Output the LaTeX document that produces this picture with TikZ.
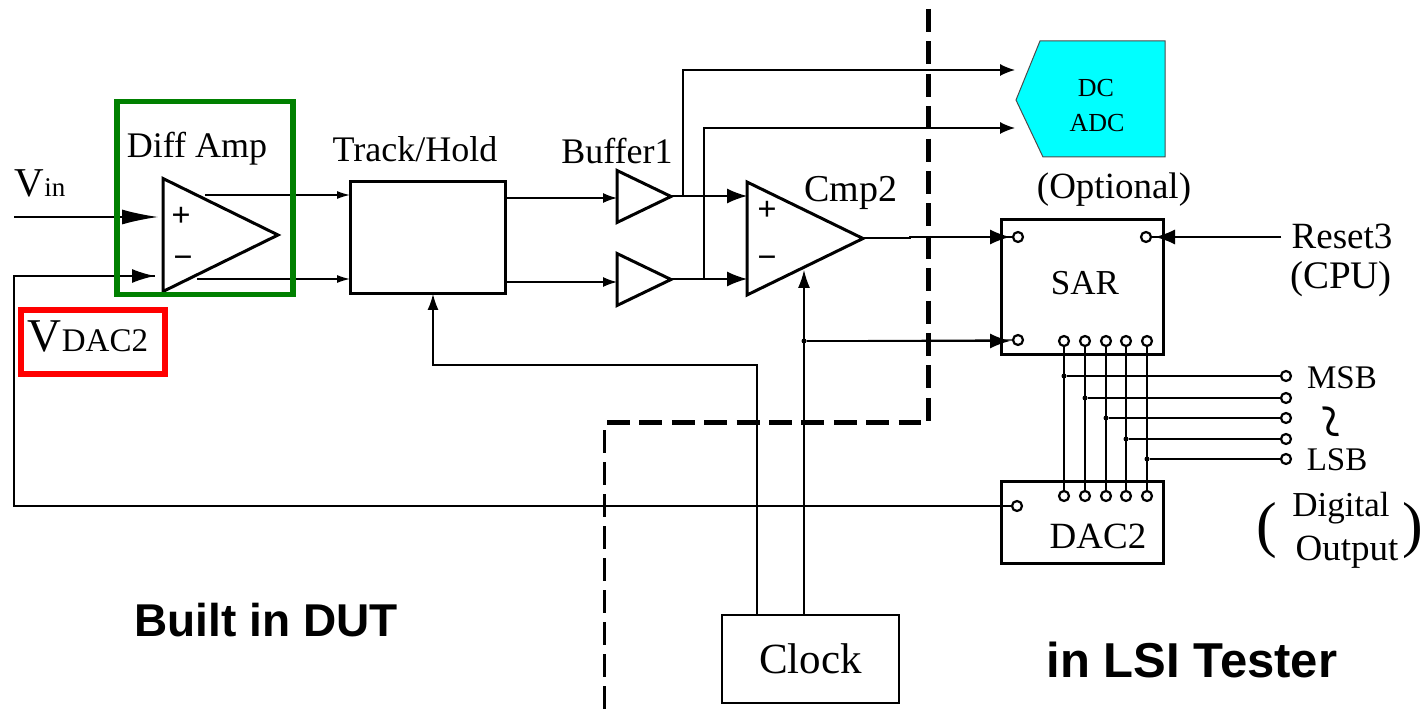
\documentclass[tikz,border=0pt]{standalone}
\usepackage{fontspec}
\setmainfont{Liberation Serif}
\setsansfont{Liberation Sans}
\usetikzlibrary{arrows.meta,shapes.geometric,calc}
\definecolor{adccyan}{RGB}{0,255,255}
\definecolor{framegreen}{RGB}{0,128,0}
\tikzset{
  wire/.style={draw=black,line width=1.4pt},
  smalltip/.style={wire,-{Latex[length=13pt,width=8pt]}},
  bigtip/.style={wire,-{Latex[length=20pt,width=15pt]}},
  hugetip/.style={wire,-{Latex[length=36pt,width=15pt]}},
  box/.style={draw=black,line width=3pt,inner sep=0pt,outer sep=0pt},
  amp/.style={shape=isosceles triangle,isosceles triangle stretches,draw=black,line width=3pt,inner sep=0pt,outer sep=0pt,anchor=lower side},
  port/.style={shape=circle,draw=black,line width=2.2pt,fill=white,inner sep=0pt,minimum size=10pt},
  jdot/.style={shape=circle,fill=black,inner sep=0pt,minimum size=5pt},
  lbl/.style={inner sep=0pt,font=\fontsize{36}{38}\selectfont},
  sign/.style={inner sep=0pt,font=\bfseries\fontsize{34}{34}\selectfont},
  head/.style={inner sep=0pt,font=\sffamily\bfseries\fontsize{46}{46}\selectfont},
  border/.style={draw=black,line width=5pt,dash pattern=on 23pt off 9.4pt},
  thinborder/.style={draw=black,line width=3.5pt,dash pattern=on 23pt off 9pt}
}
\begin{document}
\begin{tikzpicture}[x=1pt,y=-1pt]
\useasboundingbox (0,0) rectangle (1428,711);
% blocks
\node[amp,minimum width=113pt,minimum height=115pt] (diff) at (163,235) {};
\node[box,minimum width=155pt,minimum height=112pt] (th) at (427.5,238) {};
\node[amp,minimum width=52pt,minimum height=54pt] (buf1) at (617,196.5) {};
\node[amp,minimum width=52pt,minimum height=54pt] (buf2) at (617,279.5) {};
\node[amp,minimum width=113pt,minimum height=116pt] (cmp) at (747,238.5) {};
\node[box,minimum width=162pt,minimum height=135pt] (sar) at (1082,287.5) {};
\node[box,minimum width=162pt,minimum height=82pt] (dac) at (1082,522) {};
\node[draw=black,line width=1.5pt,inner sep=0pt,minimum width=177pt,minimum height=88pt,font=\fontsize{43}{43}\selectfont] (clock) at (810.5,659) {Clock};
\draw[draw=black!70,line width=1pt,fill=adccyan] (1040,41) -- (1165,41) -- (1165,157) -- (1043,157) -- (1016,100) -- cycle;
\node[lbl,font=\fontsize{26}{28}\selectfont] (dc) at (1096,88) {DC};
\node[lbl,font=\fontsize{26}{28}\selectfont] (adc) at (1097,123) {ADC};
% ports
\node[port] (sarin) at (1018,237) {};
\node[port] (sarrst) at (1146,237) {};
\node[port] (sarclk) at (1018,340) {};
\node[port] (dacout) at (1017,506) {};
\foreach \i/\x in {1/1064,2/1085,3/1106,4/1126,5/1147} {
  \node[port] (s\i) at (\x,341) {};
  \node[port] (d\i) at (\x,496) {};
  \draw[wire] (s\i) -- (d\i);
}
\foreach \i/\y in {1/376,2/398,3/418,4/439,5/459} {
  \node[port] (o\i) at (1286,\y) {};
  \node[jdot] (j\i) at (s\i |- o\i) {};
  \draw[wire] (j\i) -- (o\i);
}
% input side
\coordinate (vinfree) at (14,217);
\coordinate (vintip) at (158,217);
\coordinate (vdacl) at (14,276);
\coordinate (vdactip) at (155,276);
\draw[hugetip] (vinfree) -- (vintip);
\draw[wire] (dacout) -- (vdacl |- dacout) -- (vdacl) -- (vdactip);
\draw[smalltip,-{Latex[length=23pt,width=14pt]}] (vdacl) -- (vdactip);
\coordinate (diffa) at (205,195);
\coordinate (diffb) at (197,279);
\draw[smalltip] (diffa) -- (th.west |- diffa);
\draw[smalltip] (diffb) -- (th.west |- diffb);
\coordinate (thout1) at (505,198);
\coordinate (thout2) at (505,282);
\draw[bigtip,-{Latex[length=14pt,width=10pt]}] (thout1) -- (buf1.lower side |- thout1);
\draw[bigtip,-{Latex[length=14pt,width=10pt]}] (thout2) -- (buf2.lower side |- thout2);
% buffers to comparator and ADC
\coordinate (b1out) at (670,196);
\coordinate (b2out) at (670,279);
\draw[bigtip] (b1out) -- (cmp.lower side |- b1out);
\draw[bigtip] (b2out) -- (cmp.lower side |- b2out);
\coordinate (br1) at (683,196);
\coordinate (br2) at (704,279);
\coordinate (adc1) at (1015,70);
\coordinate (adc2) at (1015,128);
\draw[bigtip,-{Latex[length=15pt,width=12pt]}] (br1) -- (br1 |- adc1) -- (adc1);
\draw[bigtip,-{Latex[length=15pt,width=12pt]}] (br2) -- (br2 |- adc2) -- (adc2);
% comparator to SAR
\coordinate (cmpout) at (863,238);
\coordinate (sarintip) at (1010,237);
\draw[wire] (cmpout) -- (910,238) -- (910,237) -- (sarin);
\draw[bigtip] (940,237) -- (sarintip);
\coordinate (rstfree) at (1281,237);
\coordinate (rsttip) at (1155,237);
\draw[wire] (rstfree) -- (sarrst);
\draw[bigtip] (rstfree) -- (rsttip);
% clock
\coordinate (clk1) at (757,615);
\coordinate (clk2) at (804,615);
\coordinate (thclk) at (433,294);
\coordinate (cmpclk) at (804,270);
\coordinate (sarclktip) at (1010,341);
\node[jdot] (clkj) at (804,341) {};
\draw[bigtip,-{Latex[length=16pt,width=11pt]}] (clk1) -- (757,365) -- (thclk |- 757,365) -- (thclk);
\draw[bigtip,-{Latex[length=18pt,width=12pt]}] (clk2) -- (cmpclk);
\draw[wire] (clkj) -- (sarclk);
\draw[bigtip] (clkj) -- (sarclktip);
% border of the DUT
\coordinate (bd1) at (928,9);
\coordinate (bd2) at (928,422);
\coordinate (bd3) at (607,423);
\coordinate (bd4) at (921,423);
\coordinate (bd5) at (604.5,430);
\coordinate (bd6) at (604.5,711);
\draw[border] (bd1) -- (bd2);
\draw[border] (bd3) -- (bd4);
\draw[thinborder] (bd5) -- (bd6);
% frames
\node[draw=framegreen,line width=5.5pt,inner sep=0pt,minimum width=176pt,minimum height=193pt] (ampframe) at (205,198) {};
\node[draw=red,line width=6pt,inner sep=0pt,minimum width=144pt,minimum height=64pt] (dacframe) at (93,342) {};
% labels
\node[lbl] (vin) at (40,183) {\fontsize{41}{41}\selectfont V\fontsize{27}{27}\selectfont in};
\node[lbl] (vdac) at (88,336) {\fontsize{47}{47}\selectfont V\fontsize{33}{33}\selectfont DAC2};
\node[lbl] (difflbl) at (197,149) {Diff Amp};
\node[lbl] (thlbl) at (415,149) {Track/Hold};
\node[lbl] (buflbl) at (617,151) {Buffer1};
\node[lbl,font=\fontsize{38}{38}\selectfont] (cmplbl) at (851,193) {Cmp2};
\node[sign] (dplus) at (181,217) {+};
\node[sign] (dminus) at (183,262) {\textminus};
\node[sign] (cplus) at (767,211) {+};
\node[sign] (cminus) at (767,262) {\textminus};
\node[lbl,font=\fontsize{37}{38}\selectfont] (opt) at (1114,190) {(Optional)};
\node[lbl,font=\fontsize{35}{36}\selectfont] (sarlbl) at (1085,283) {SAR};
\node[lbl,font=\fontsize{37}{37}\selectfont] (daclbl) at (1098,536) {DAC2};
\node[lbl,font=\fontsize{37}{38}\selectfont] (rst) at (1342,236) {Reset3};
\node[lbl,font=\fontsize{39}{39}\selectfont] (cpu) at (1341,279) {(CPU)};
\node[lbl,font=\fontsize{33}{36}\selectfont] (msb) at (1342,378) {MSB};
\node[lbl,rotate=100,font=\fontsize{66}{66}\selectfont] (tilde) at (1339,420) {\char`\~};
\node[lbl,font=\fontsize{33}{36}\selectfont] (lsb) at (1337,460) {LSB};
\node[lbl,font=\fontsize{35}{36}\selectfont] (dig) at (1341,508) {Digital};
\node[lbl,font=\fontsize{37}{38}\selectfont] (outp) at (1347,552) {Output};
\node[lbl,font=\fontsize{62}{62}\selectfont] (lpar) at (1267,531) {(};
\node[lbl,font=\fontsize{62}{62}\selectfont] (rpar) at (1413,531) {)};
\node[head] (dut) at (266,620) {Built in DUT};
\node[head,font=\sffamily\bfseries\fontsize{49}{49}\selectfont] (lsi) at (1192,660) {in LSI Tester};
\end{tikzpicture}
\end{document}
